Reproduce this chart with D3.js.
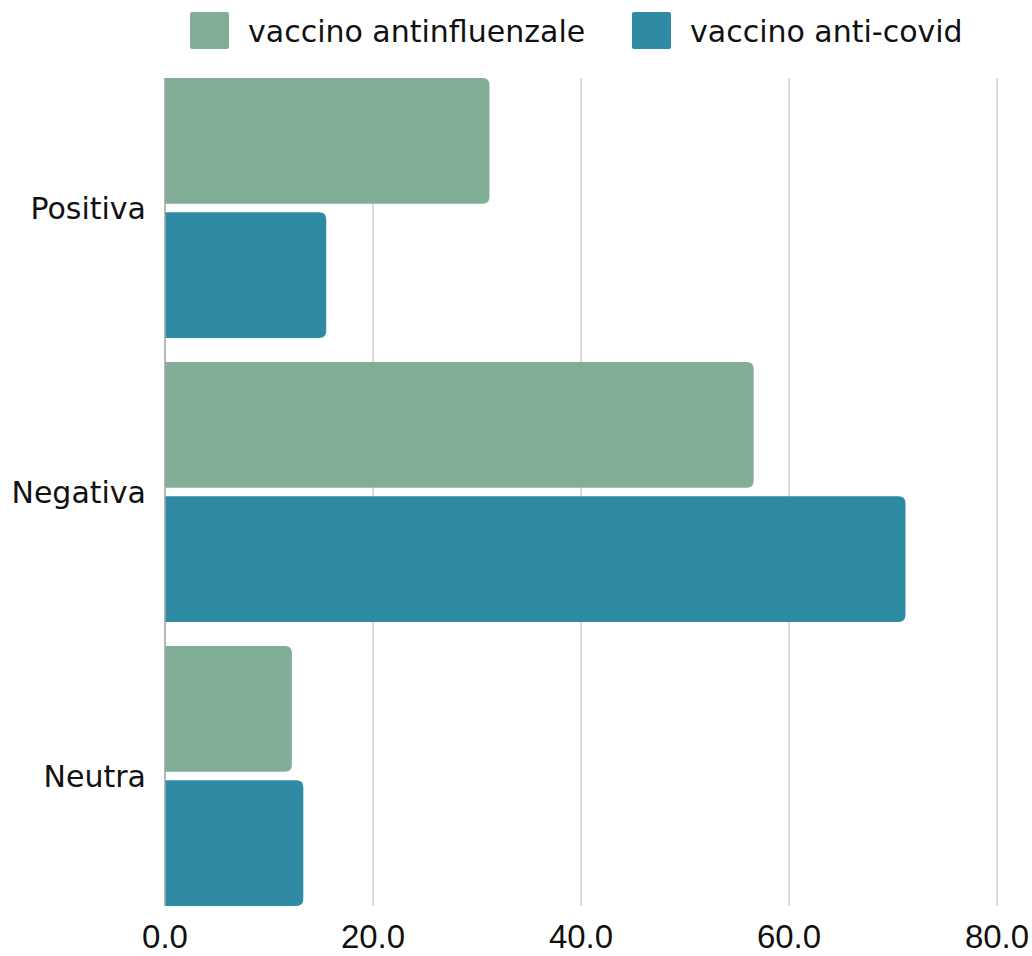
<!DOCTYPE html>
<html>
<head>
<meta charset="utf-8">
<script src="https://cdn.jsdelivr.net/npm/d3@7"></script>
<style>
  body { margin: 0; background: #fff; }
  text { font-family: "DejaVu Sans", sans-serif; fill: #111; }
  text.tick { font-family: "Liberation Sans", Arial, sans-serif; }
</style>
</head>
<body>
<svg id="chart" width="1032" height="956"></svg>
<script>
var categories = ["Positiva", "Negativa", "Neutra"];
var series = ["vaccino antinfluenzale", "vaccino anti-covid"];
var fluValues = [31.2, 56.6, 12.2];
var covidValues = [15.5, 71.2, 13.3];
var xTicks = [0, 20, 40, 60, 80];
var colors = ["#82ae98", "#2e8ba3"];

var svg = d3.select("#chart");

var x = d3.scaleLinear().domain([0, 80]).range([165, 997]);
var y = d3.scaleBand().domain(categories).range([66, 918]);
var ySub = d3.scaleBand().domain(series).range([12, y.bandwidth() - 12]).paddingInner(0.062);

var rows = categories.map(function(c, i) {
  return {cat: c, vals: [fluValues[i], covidValues[i]]};
});

// grid lines
var gTop = y(categories[0]) + ySub(series[0]);
var gBot = y(categories[2]) + ySub(series[1]) + ySub.bandwidth();
svg.append("g").selectAll("line")
  .data(xTicks.slice(1))
  .enter().append("line")
  .attr("x1", function(d){ return x(d); })
  .attr("x2", function(d){ return x(d); })
  .attr("y1", gTop)
  .attr("y2", gBot)
  .attr("stroke", "#cfcfcf")
  .attr("stroke-width", 1.5);

// bars, rounded on the right side only
function barPath(x0, x1, y0, h, r) {
  r = Math.min(r, (x1 - x0) / 2);
  return "M" + x0 + "," + y0 +
    "H" + (x1 - r) +
    "Q" + x1 + "," + y0 + " " + x1 + "," + (y0 + r) +
    "V" + (y0 + h - r) +
    "Q" + x1 + "," + (y0 + h) + " " + (x1 - r) + "," + (y0 + h) +
    "H" + x0 + "Z";
}

svg.append("g").selectAll("g")
  .data(rows)
  .enter().append("g")
  .attr("transform", function(d){ return "translate(0," + y(d.cat) + ")"; })
  .selectAll("path")
  .data(function(d){ return d.vals.map(function(v, i){ return {s: series[i], v: v, i: i}; }); })
  .enter().append("path")
  .attr("d", function(d){ return barPath(x(0), x(d.v), ySub(d.s), ySub.bandwidth(), 7); })
  .attr("fill", function(d){ return colors[d.i]; });

// left axis line
svg.append("line")
  .attr("x1", x(0)).attr("x2", x(0))
  .attr("y1", gTop).attr("y2", gBot)
  .attr("stroke", "#a0a0a0")
  .attr("stroke-width", 1.5);

// category labels
svg.append("g").selectAll("text")
  .data(categories)
  .enter().append("text")
  .attr("x", x(0) - 19)
  .attr("y", function(d){ return y(d) + y.bandwidth() / 2; })
  .attr("dy", "0.36em")
  .attr("text-anchor", "end")
  .style("font-size", "30px")
  .text(function(d){ return d; });

// tick labels
svg.append("g").selectAll("text")
  .data(xTicks)
  .enter().append("text")
  .attr("class", "tick")
  .attr("x", function(d){ return x(d); })
  .attr("y", 948)
  .attr("text-anchor", "middle")
  .style("font-size", "33px")
  .text(function(d){ return d3.format(".1f")(d); });

// legend
var legendX = [190, 632];
var legend = svg.append("g").selectAll("g")
  .data(series)
  .enter().append("g")
  .attr("transform", function(d, i){ return "translate(" + legendX[i] + ",12)"; });
legend.append("rect")
  .attr("width", 39).attr("height", 37).attr("rx", 2)
  .attr("fill", function(d, i){ return colors[i]; });
legend.append("text")
  .attr("x", 58).attr("y", 19)
  .attr("dy", "0.36em")
  .style("font-size", "30px")
  .text(function(d){ return d; });
</script>
</body>
</html>
